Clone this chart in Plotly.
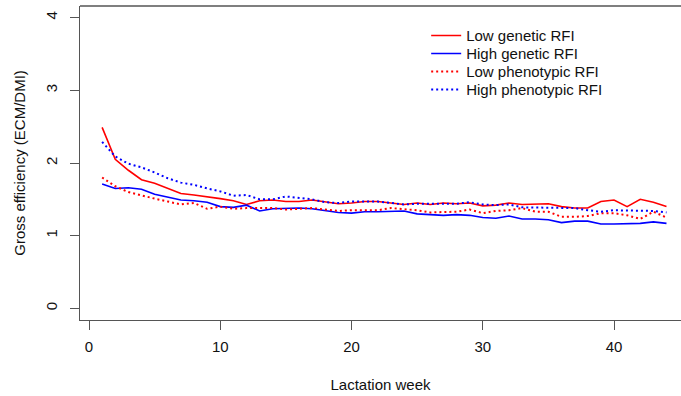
import plotly.graph_objects as go

weeks = list(range(1, 45))

low_genetic = [2.49, 2.05, 1.90, 1.77, 1.72, 1.65, 1.58, 1.56, 1.54, 1.51,
               1.48, 1.43, 1.48, 1.49, 1.47, 1.47, 1.49, 1.46, 1.44, 1.45,
               1.47, 1.47, 1.45, 1.43, 1.45, 1.43, 1.45, 1.44, 1.45, 1.41,
               1.42, 1.45, 1.43, 1.44, 1.44, 1.40, 1.38, 1.38, 1.47, 1.49,
               1.40, 1.50, 1.46, 1.40]
high_genetic = [1.71, 1.65, 1.66, 1.64, 1.57, 1.53, 1.49, 1.48, 1.46, 1.40,
                1.39, 1.42, 1.34, 1.37, 1.38, 1.38, 1.37, 1.34, 1.32, 1.31,
                1.33, 1.33, 1.33, 1.34, 1.30, 1.29, 1.28, 1.29, 1.28, 1.25,
                1.24, 1.27, 1.23, 1.23, 1.22, 1.18, 1.20, 1.20, 1.16, 1.16,
                1.16, 1.17, 1.19, 1.17]
low_pheno = [1.80, 1.68, 1.60, 1.55, 1.51, 1.47, 1.43, 1.45, 1.37, 1.40,
             1.37, 1.38, 1.38, 1.38, 1.36, 1.37, 1.38, 1.36, 1.34, 1.35,
             1.35, 1.35, 1.38, 1.37, 1.35, 1.32, 1.33, 1.33, 1.36, 1.31,
             1.34, 1.35, 1.38, 1.33, 1.33, 1.26, 1.26, 1.27, 1.31, 1.31,
             1.28, 1.23, 1.33, 1.25]
high_pheno = [2.29, 2.09, 1.99, 1.94, 1.87, 1.79, 1.73, 1.70, 1.65, 1.61,
              1.55, 1.56, 1.50, 1.50, 1.54, 1.52, 1.50, 1.46, 1.45, 1.47,
              1.47, 1.47, 1.45, 1.43, 1.44, 1.44, 1.44, 1.44, 1.46, 1.43,
              1.42, 1.43, 1.39, 1.39, 1.38, 1.38, 1.38, 1.35, 1.33, 1.35,
              1.35, 1.35, 1.34, 1.32]

series_names = ["Low genetic RFI", "High genetic RFI",
                "Low phenotypic RFI", "High phenotypic RFI"]

x_ticks = [0, 10, 20, 30, 40]
y_ticks = [0, 1, 2, 3, 4]

FONT = "Liberation Sans, Arial, sans-serif"
AXC = "#555555"

fig = go.Figure()
styles = [
    (low_genetic, "#ff0000", "solid", 1.6),
    (high_genetic, "#0000ff", "solid", 1.6),
    (low_pheno, "#ff0000", "2px,3px", 2),
    (high_pheno, "#0000ff", "2px,3px", 2),
]
legend_ids = ["legend", "legend2", "legend3", "legend4"]
for name, lid, (vals, col, dash, w) in zip(series_names, legend_ids, styles):
    fig.add_trace(go.Scatter(x=weeks, y=vals, mode="lines", name=name,
                             legend=lid,
                             line=dict(color=col, dash=dash, width=w)))

# legend rows: one native legend per entry so the row spacing matches
row_tops = [0.958, 0.9007, 0.8434, 0.7861]
leg_common = dict(x=0.576, xanchor="left", yanchor="top",
                  bgcolor="rgba(0,0,0,0)", font=dict(size=15, color="#111111"),
                  itemwidth=30)

fig.update_layout(
    width=681, height=396,
    margin=dict(l=80, r=0, t=6, b=76),
    paper_bgcolor="white", plot_bgcolor="white",
    font=dict(family=FONT, size=15, color="#111111"),
    showlegend=True,
    legend=dict(y=row_tops[0], **leg_common),
    legend2=dict(y=row_tops[1], **leg_common),
    legend3=dict(y=row_tops[2], **leg_common),
    legend4=dict(y=row_tops[3], **leg_common),
    xaxis=dict(range=[-0.686, 45.105], tickvals=x_ticks,
               ticktext=[str(v) for v in x_ticks],
               showgrid=False, zeroline=False,
               showline=True, linecolor=AXC, linewidth=1.3,
               ticks="outside", ticklen=9, tickwidth=1.3, tickcolor=AXC,
               ticklabelstandoff=4,
               title=dict(text="Lactation week", standoff=25,
                          font=dict(size=15))),
    yaxis=dict(range=[-0.16, 4.16], tickvals=y_ticks,
               ticktext=[str(v) for v in y_ticks],
               showgrid=False, zeroline=False,
               showline=True, linecolor=AXC, linewidth=1.3,
               ticks="outside", ticklen=9, tickwidth=1.3, tickcolor=AXC,
               tickangle=-90, ticklabelstandoff=7,
               title=dict(text="Gross efficiency (ECM/DMI)", standoff=13,
                          font=dict(size=15))),
)
fig.add_shape(type="line", xref="paper", yref="paper", x0=0, x1=1, y0=1, y1=1,
              line=dict(color=AXC, width=1.3))

fig.write_html("out.html")
